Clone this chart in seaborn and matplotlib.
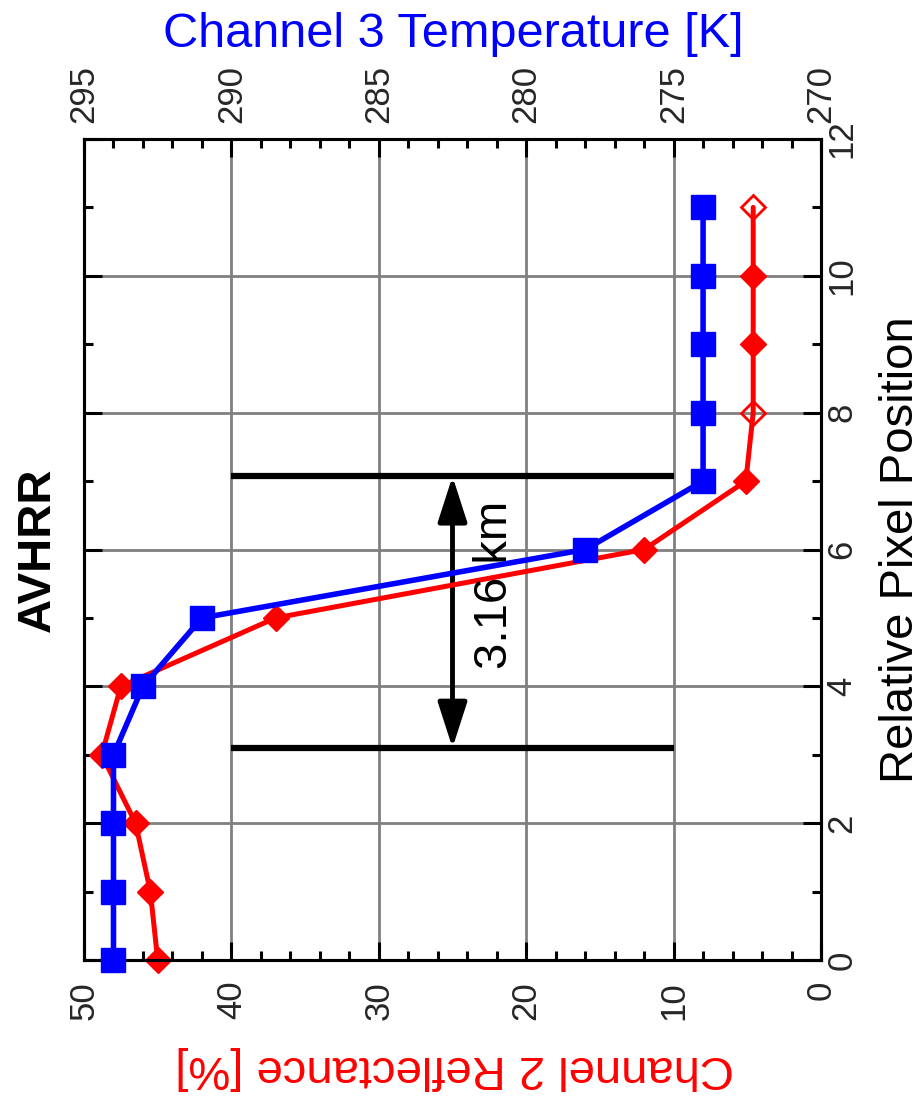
import matplotlib
matplotlib.use("Agg")
import matplotlib.pyplot as plt
from matplotlib.ticker import MultipleLocator
import pandas as pd
import seaborn as sns

# values
pixel_pos = [0, 1, 2, 3, 4, 5, 6, 7, 8, 9, 10, 11]
ch2_reflectance = [45.0, 45.5, 46.5, 48.8, 47.5, 37.0, 12.0, 5.1, 4.6, 4.6, 4.6, 4.6]
ch3_temperature = [294.0, 294.0, 294.0, 294.0, 293.0, 291.0, 278.0, 274.0, 274.0, 274.0, 274.0, 274.0]
open_points = [8, 11]

edge_positions = [3.10, 7.07]
edge_span = [40, 10]
arrow_refl = 25.0
width_label = "3.16 km"

RED = "#ff0000"
BLUE = "#0000ff"

sns.set_theme(style="white")
plt.rcParams["font.family"] = ["Liberation Sans", "DejaVu Sans"]

df = pd.DataFrame({"pos": pixel_pos, "refl": ch2_reflectance, "temp": ch3_temperature})
df["open"] = df["pos"].isin(open_points)

W, H = 922, 1109
fig = plt.figure(figsize=(W / 100, H / 100), dpi=100)
ax = fig.add_axes([84 / W, 1 - 960 / H, (821 - 84) / W, (960 - 139) / H])
ax2 = ax.twiny()

# reflectance (red) on the main axes
sns.lineplot(data=df, x="refl", y="pos", sort=False, estimator=None,
             color=RED, lw=3.6, ax=ax, zorder=3)
sns.lineplot(data=df[~df["open"]], x="refl", y="pos", sort=False, estimator=None,
             color=RED, ls="none", marker="D", ms=13, mec=RED, mew=1, clip_on=False,
             ax=ax, zorder=4)
sns.lineplot(data=df[df["open"]], x="refl", y="pos", sort=False, estimator=None,
             color=RED, ls="none", marker="D", ms=12, mfc="none", mec=RED, mew=2, clip_on=False,
             ax=ax, zorder=4)

# temperature (blue) on the twin axis
sns.lineplot(data=df, x="temp", y="pos", sort=False, estimator=None,
             color=BLUE, lw=4, marker="s", ms=17.5, mec=BLUE, mew=1, clip_on=False,
             ax=ax2, zorder=3)

# 3.16 km bars + arrow
for yb in edge_positions:
    ax.plot(edge_span, [yb, yb], color="black", lw=4.5, solid_capstyle="butt", zorder=2.5)
ax.annotate("", xy=(arrow_refl, edge_positions[1]), xytext=(arrow_refl, edge_positions[0]),
            arrowprops=dict(arrowstyle="<|-|>,head_length=1.4,head_width=0.45", color="black",
                            lw=3.5, shrinkA=0, shrinkB=0, mutation_scale=20), zorder=2.5)
ax.text(21.3, 5.48, width_label, rotation=90, rotation_mode="anchor",
        ha="center", va="baseline", fontsize=34, color="black")

ax.set_xlim(50, 0)
ax.set_ylim(0, 12)
ax2.set_xlim(295, 270)
ax.xaxis.set_major_locator(MultipleLocator(10))
ax.xaxis.set_minor_locator(MultipleLocator(2))
ax.yaxis.set_major_locator(MultipleLocator(2))
ax.yaxis.set_minor_locator(MultipleLocator(1))
ax2.xaxis.set_major_locator(MultipleLocator(5))
ax2.xaxis.set_minor_locator(MultipleLocator(1))
for a in (ax, ax2):
    a.set_xlabel("")
    a.set_ylabel("")
    for sp in a.spines.values():
        sp.set_linewidth(2.2)
        sp.set_color("black")

ax.grid(True, which="major", color="#808080", lw=2)
ax.set_axisbelow(True)
ax2.grid(False)

ax.tick_params(axis="x", which="both", direction="in", bottom=True, top=False,
               labelbottom=True, labeltop=False, labelrotation=90, labelsize=25,
               pad=15, width=2.2, color="black")
ax.tick_params(axis="y", which="both", direction="in", left=True, right=True,
               labelleft=False, labelright=True, labelrotation=90, labelsize=25,
               pad=3, width=2.2, color="black")
ax2.tick_params(axis="x", which="both", direction="in", top=True, bottom=False,
                labeltop=True, labelbottom=False, labelrotation=90, labelsize=25,
                pad=11.5, width=2.2, color="black")
for a in (ax, ax2):
    a.tick_params(which="major", length=13)
    a.tick_params(which="minor", length=6.5)
plt.setp(ax.yaxis.get_majorticklabels(), va="center")

fig.text(453 / W, 1 - 47 / H, "Channel 3 Temperature [K]", ha="center", va="baseline",
         fontsize=35, color=BLUE)
fig.text(455 / W, 1 - 1056 / H, "Channel 2 Reflectance [%]", rotation=180, rotation_mode="anchor",
         ha="center", va="baseline", fontsize=34, color=RED)
fig.text(913 / W, 1 - 550 / H, "Relative Pixel Position", rotation=90, rotation_mode="anchor",
         ha="center", va="baseline", fontsize=34, color="black")
fig.text(50 / W, 1 - 550 / H, "AVHRR", rotation=90, rotation_mode="anchor",
         ha="center", va="baseline", fontsize=34, fontweight="bold", color="black")

fig.savefig("out.png", dpi=100)
